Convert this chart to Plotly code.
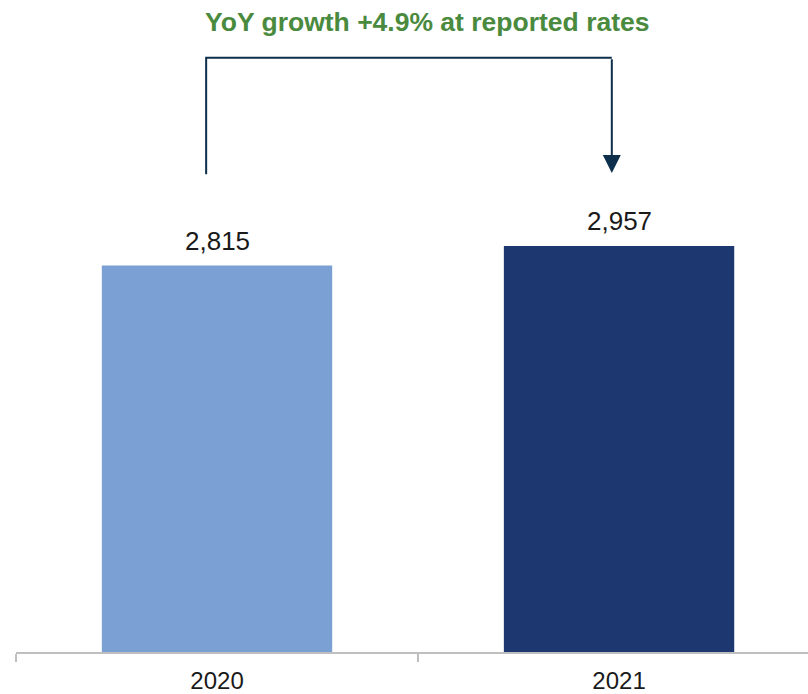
import plotly.graph_objects as go

# Revenue by year
years = ["2020", "2021"]
values = [2815, 2957]
bar_colors = ["#7BA0D3", "#1D3870"]
growth_text = "YoY growth +4.9% at reported rates"

# bracket levels (value units) for the growth arrow
bracket_top = 4330
bracket_left_bottom = 3480
arrow_tip = 3490

FONT = "Liberation Sans, Arial, sans-serif"
LINE = "#0E2F4C"

fig = go.Figure()
fig.add_trace(go.Bar(
    x=years,
    y=values,
    marker=dict(color=bar_colors, line=dict(width=0)),
    width=0.573,
    hoverinfo="skip",
))

# value labels above each bar (category index positions)
for i, v in enumerate(values):
    fig.add_annotation(
        x=i, y=v, xref="x", yref="y", text=f"{v:,}", showarrow=False,
        yanchor="middle", yshift=25,
        font=dict(family=FONT, size=26, color="#1a1a1a"),
    )

# bracket: left leg and top span
x_left = -0.027
x_right = 1 - 0.018
fig.add_shape(
    type="path", xref="x", yref="y",
    path=f"M {x_left},{bracket_left_bottom} L {x_left},{bracket_top} L {x_right},{bracket_top}",
    line=dict(color=LINE, width=2),
)
# right leg with arrow head
fig.add_annotation(
    x=x_right, y=arrow_tip, ax=x_right, ay=bracket_top,
    xref="x", yref="y", axref="x", ayref="y",
    text="", showarrow=True, arrowhead=2, arrowsize=1.8,
    arrowwidth=2, arrowcolor=LINE, standoff=0,
)

# growth headline
fig.add_annotation(
    xref="paper", yref="paper", x=(427.5 - 16) / 792, y=1 - 22 / 652,
    text=f"<b>{growth_text}</b>", showarrow=False,
    xanchor="center", yanchor="middle",
    font=dict(family=FONT, size=26.5, color="#4A8A3E"),
)

fig.update_layout(
    width=808, height=694,
    margin=dict(l=16, r=0, t=0, b=42, pad=0),
    paper_bgcolor="white", plot_bgcolor="white",
    showlegend=False,
    bargap=0.427,
    xaxis=dict(
        type="category", range=[-0.5, 1.470],
        showline=True, linecolor="#BFBFBF", linewidth=1.5,
        ticks="outside", tickson="boundaries", ticklen=8,
        tickcolor="#BFBFBF", tickwidth=1.5, ticklabelstandoff=6,
        showgrid=False, zeroline=False, fixedrange=True,
        tickfont=dict(family=FONT, size=24, color="#1a1a1a"),
    ),
    yaxis=dict(
        range=[0, 4750], visible=False, showgrid=False,
        zeroline=False, fixedrange=True,
    ),
)

fig.write_html("out.html", config={"displayModeBar": False})
